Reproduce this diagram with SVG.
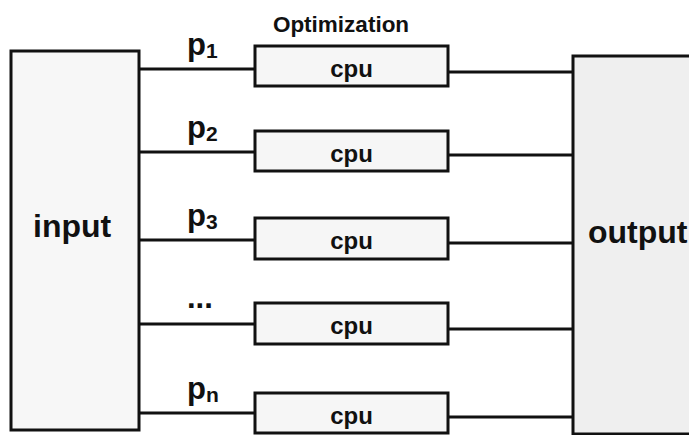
<svg xmlns="http://www.w3.org/2000/svg" width="689" height="435" viewBox="0 0 689 435">
  <style>
    .box { stroke: #111; stroke-width: 3; }
    .io { fill: #f7f7f7; }
    .out { fill: #efefef; }
    .cpu { fill: #f6f6f6; }
    .wire { stroke: #111; stroke-width: 3; fill: none; }
    text { font-family: "Liberation Sans", Arial, sans-serif; font-weight: bold; fill: #111; }
    .big { font-size: 32px; }
    .lab { font-size: 31px; }
    .sub { font-size: 21px; }
    .cpuT { font-size: 24px; text-anchor: middle; }
  </style>

  <!-- connectors: input -> cpu -> output -->
  <g id="connectors">
    <line class="wire" x1="139" y1="69" x2="255" y2="69"/>
    <line class="wire" x1="139" y1="152" x2="255" y2="152"/>
    <line class="wire" x1="139" y1="240" x2="255" y2="240"/>
    <line class="wire" x1="139" y1="324" x2="255" y2="324"/>
    <line class="wire" x1="139" y1="413" x2="255" y2="413"/>
    <line class="wire" x1="448" y1="72" x2="573" y2="72"/>
    <line class="wire" x1="448" y1="155" x2="573" y2="155"/>
    <line class="wire" x1="448" y1="243" x2="573" y2="243"/>
    <line class="wire" x1="448" y1="329" x2="573" y2="329"/>
    <line class="wire" x1="448" y1="417" x2="573" y2="417"/>
  </g>

  <g id="input">
    <rect class="box io" x="11" y="51" width="128" height="379"/>
    <text class="big" x="33" y="237">input</text>
  </g>

  <g id="output">
    <rect class="box out" x="573" y="56" width="130" height="378"/>
    <text class="big" x="588" y="243">output</text>
  </g>

  <text id="title" x="341" y="32" style="font-size:22.5px;text-anchor:middle">Optimization</text>

  <g id="cpu1">
    <rect class="box cpu" x="255" y="46" width="193" height="40"/>
    <text class="cpuT" x="351.5" y="77">cpu</text>
  </g>
  <g id="cpu2">
    <rect class="box cpu" x="255" y="131" width="193" height="40"/>
    <text class="cpuT" x="351.5" y="162">cpu</text>
  </g>
  <g id="cpu3">
    <rect class="box cpu" x="255" y="218" width="193" height="41"/>
    <text class="cpuT" x="351.5" y="249">cpu</text>
  </g>
  <g id="cpu4">
    <rect class="box cpu" x="255" y="303" width="193" height="41"/>
    <text class="cpuT" x="351.5" y="334">cpu</text>
  </g>
  <g id="cpu5">
    <rect class="box cpu" x="255" y="393" width="193" height="40"/>
    <text class="cpuT" x="351.5" y="424">cpu</text>
  </g>

  <g id="labels">
    <text class="lab" x="187" y="55">p<tspan class="sub" dy="3">1</tspan></text>
    <text class="lab" x="187" y="138">p<tspan class="sub" dy="3">2</tspan></text>
    <text class="lab" x="187" y="226">p<tspan class="sub" dy="3">3</tspan></text>
    <text class="lab" x="187" y="308">...</text>
    <text class="lab" x="187" y="399">p<tspan class="sub" dy="3">n</tspan></text>
  </g>
</svg>
